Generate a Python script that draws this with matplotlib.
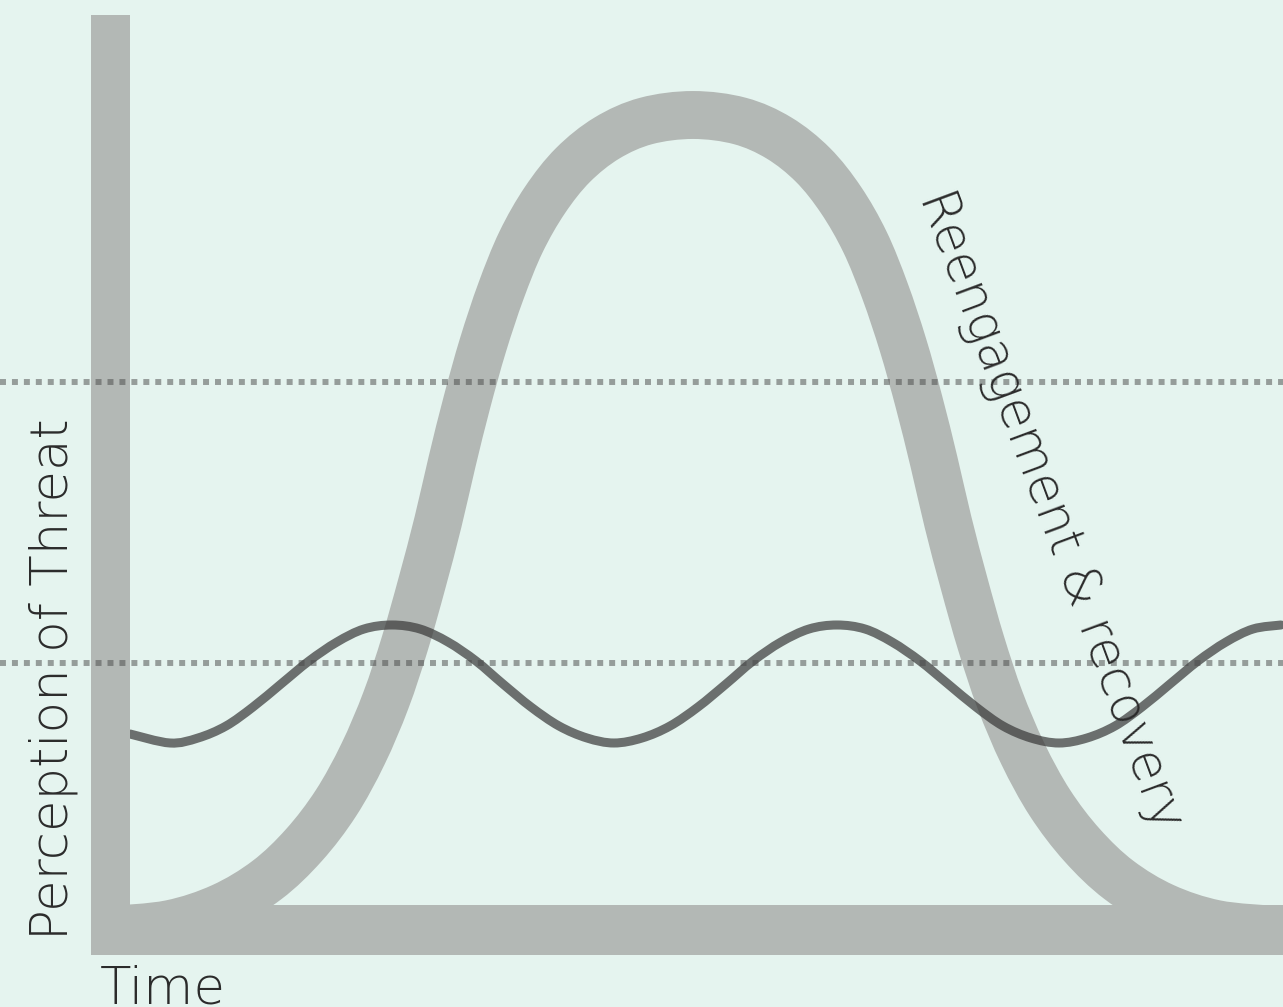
import numpy as np
import matplotlib
matplotlib.use("Agg")
import matplotlib.pyplot as plt
from matplotlib.path import Path
from matplotlib.patches import PathPatch, Rectangle

# threat response curve (time, perception of threat)
bell_t = [0.00, 0.60, 1.12, 1.57, 1.94, 2.26, 2.53, 2.76, 2.95, 3.12,
          3.28, 3.42, 3.57, 3.73, 3.91, 4.11, 4.35, 4.63, 4.97, 5.36,
          5.83,
          6.30, 6.69, 7.03, 7.31, 7.55, 7.75, 7.93, 8.09, 8.24, 8.38,
          8.54, 8.71, 8.90, 9.13, 9.40, 9.72, 10.09, 10.54, 11.06, 11.66]
bell_y = [0.00, 0.06, 0.23, 0.50, 0.85, 1.27, 1.76, 2.30, 2.87, 3.47,
          4.08, 4.68, 5.28, 5.85, 6.39, 6.88, 7.30, 7.65, 7.92, 8.09,
          8.15,
          8.09, 7.92, 7.65, 7.30, 6.88, 6.39, 5.85, 5.28, 4.68, 4.08,
          3.47, 2.87, 2.30, 1.76, 1.27, 0.85, 0.50, 0.23, 0.06, 0.00]

# everyday ups and downs
wave_t = [0.20, 0.60, 0.88, 1.16, 1.43, 1.71, 1.99, 2.27, 2.54, 2.82,
          3.10, 3.38, 3.66, 3.93, 4.21, 4.49, 4.77, 5.04, 5.32, 5.60,
          5.88, 6.16, 6.43, 6.71, 6.99, 7.27, 7.55, 7.82, 8.10, 8.38,
          8.66, 8.93, 9.21, 9.49, 9.77, 10.05, 10.32, 10.60, 10.88, 11.16,
          11.43, 11.71]
wave_y = [1.96, 1.87, 1.92, 2.04, 2.23, 2.46, 2.69, 2.88, 3.01, 3.05,
          3.01, 2.88, 2.69, 2.46, 2.23, 2.04, 1.92, 1.87, 1.92, 2.04,
          2.23, 2.46, 2.69, 2.88, 3.01, 3.05, 3.01, 2.88, 2.69, 2.46,
          2.23, 2.04, 1.92, 1.87, 1.92, 2.04, 2.23, 2.46, 2.69, 2.88,
          3.01, 3.05]

# window of tolerance (upper / lower)
thresholds = [5.48, 2.67]

y_label = "Perception of Threat"
x_label = "Time"
curve_label = "Reengagement & recovery"

BG = "#e5f4ef"
GREY = "#b3b8b5"
INK = "#2b2b2b"
FONT = "DejaVu Sans"


def smooth_path(xs, ys):
    # catmull-rom through the points, as cubic bezier pieces
    pts = np.column_stack([xs, ys])
    p = np.vstack([pts[0], pts, pts[-1]])
    verts = [pts[0]]
    codes = [Path.MOVETO]
    for i in range(1, len(p) - 2):
        c1 = p[i] + (p[i + 1] - p[i - 1]) / 6
        c2 = p[i + 1] - (p[i + 2] - p[i]) / 6
        verts += [c1, c2, p[i + 1]]
        codes += [Path.CURVE4] * 3
    return Path(verts, codes)


fig = plt.figure(figsize=(12.83, 10.07), dpi=100, facecolor=BG)
ax = fig.add_axes([0, 0, 1, 1])
ax.set_xlim(-1.10, 11.73)
ax.set_ylim(-0.77, 9.30)
ax.axis("off")

# thick L-shaped axes
ax.add_patch(Rectangle((-0.19, -0.25), 0.39, 9.40, color=GREY, lw=0, zorder=3.5))
ax.add_patch(Rectangle((-0.19, -0.25), 12.5, 0.50, color=GREY, lw=0, zorder=3.5))

ax.add_patch(PathPatch(smooth_path(bell_t, bell_y), fill=False, edgecolor=GREY,
                       lw=34.5, capstyle="butt", joinstyle="round", zorder=2))

ax.add_patch(PathPatch(smooth_path(wave_t, wave_y), fill=False, edgecolor="#373737",
                       alpha=0.7, lw=6.5, capstyle="round", joinstyle="round", zorder=3))

for th in thresholds:
    ax.axhline(th, color="#474747", alpha=0.5, lw=4.3, linestyle=(0, (1, 1)),
               dash_capstyle="butt", zorder=4)

ax.text(-0.42, -0.10, y_label, rotation=90, rotation_mode="anchor",
        ha="left", va="baseline", fontsize=37, fontfamily=FONT,
        fontweight=200, color=INK, zorder=5)
ax.text(-0.10, -0.735, x_label, ha="left", va="baseline", fontsize=37,
        fontfamily=FONT, fontweight=200, color=INK, zorder=5)
ax.text(9.40, 4.20, curve_label, rotation=-69.6, rotation_mode="anchor",
        ha="center", va="center", fontsize=36.5, fontfamily=FONT,
        fontweight=200, color=INK, zorder=5)

fig.savefig("out.png", dpi=100, facecolor=BG)
